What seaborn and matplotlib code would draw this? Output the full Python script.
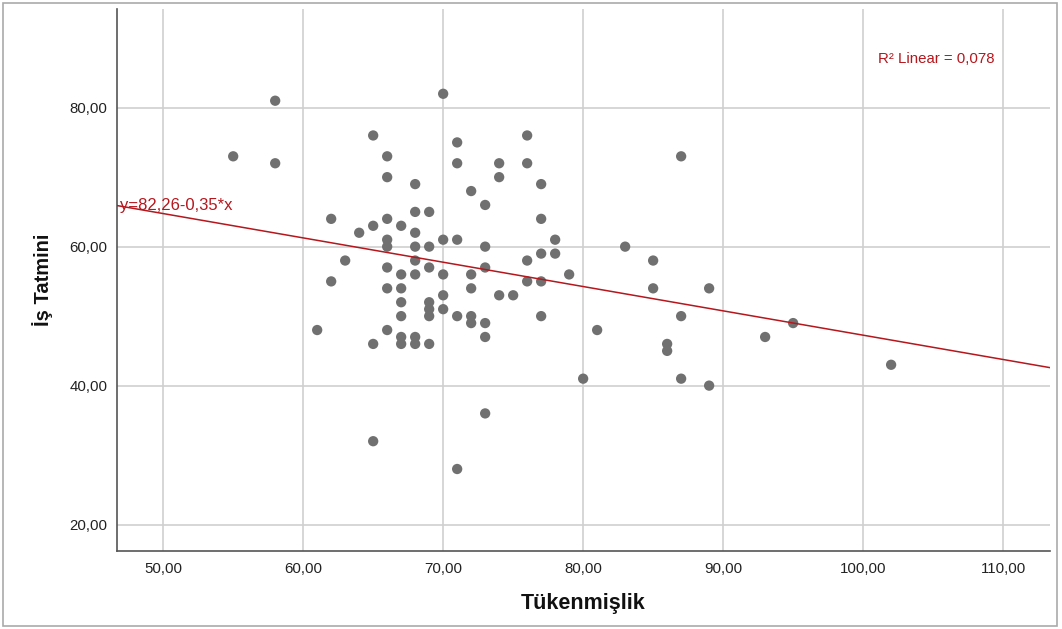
import matplotlib
matplotlib.use("Agg")
import matplotlib.pyplot as plt
import matplotlib.ticker as mticker
from matplotlib.patches import Rectangle
import seaborn as sns
import pandas as pd
import numpy as np

tukenmislik = [55, 58, 58, 61, 62, 62, 63, 64, 65, 65, 65, 65,
               66, 66, 66, 66, 66, 66, 66, 66,
               67, 67, 67, 67, 67, 67, 67,
               68, 68, 68, 68, 68, 68, 68, 68,
               69, 69, 69, 69, 69, 69, 69,
               70, 70, 70, 70, 70,
               71, 71, 71, 71, 71,
               72, 72, 72, 72, 72,
               73, 73, 73, 73, 73, 73,
               74, 74, 74, 75, 76, 76, 76, 76,
               77, 77, 77, 77, 77, 78, 78, 79, 80, 81, 83, 85, 85,
               86, 86, 87, 87, 87, 89, 89, 93, 95, 102]
is_tatmini = [73, 81, 72, 48, 64, 55, 58, 62, 76, 63, 46, 32,
              73, 70, 64, 61, 60, 57, 54, 48,
              63, 56, 54, 52, 50, 47, 46,
              69, 65, 62, 60, 58, 56, 47, 46,
              65, 60, 57, 52, 51, 50, 46,
              82, 61, 56, 53, 51,
              75, 72, 61, 50, 28,
              68, 56, 54, 50, 49,
              66, 60, 57, 49, 47, 36,
              72, 70, 53, 53, 76, 72, 58, 55,
              69, 64, 59, 55, 50, 61, 59, 56, 41, 48, 60, 58, 54,
              46, 45, 73, 50, 41, 54, 40, 47, 49, 43]

intercept = 82.26
slope = -0.35
equation_label = "y=82,26-0,35*x"
r2_label = "R² Linear = 0,078"
x_label = "Tükenmişlik"
y_label = "İş Tatmini"

df = pd.DataFrame({"Tükenmişlik": tukenmislik, "İş Tatmini": is_tatmini})

sns.set_style("white")
plt.rcParams["font.family"] = ["Liberation Sans", "DejaVu Sans"]

fig = plt.figure(figsize=(10.62, 6.29), dpi=100)
ax = fig.add_axes([117 / 1062, 1 - 551 / 629, (1050 - 117) / 1062, (551 - 9) / 629])

xmin, xmax = 46.7, 113.35
ymin, ymax = 16.2, 94.2

sns.scatterplot(data=df, x="Tükenmişlik", y="İş Tatmini", ax=ax,
                color="#707070", s=55, edgecolor="none", zorder=3)

xs = np.array([xmin, xmax])
ax.plot(xs, intercept + slope * xs, color="#b5171d", lw=1.1, zorder=4)

ax.set_xlim(xmin, xmax)
ax.set_ylim(ymin, ymax)
ax.set_xticks([50, 60, 70, 80, 90, 100, 110])
ax.set_yticks([20, 40, 60, 80])
fmt = mticker.FuncFormatter(lambda v, p: f"{v:.2f}".replace(".", ","))
ax.xaxis.set_major_formatter(fmt)
ax.yaxis.set_major_formatter(fmt)
ax.tick_params(axis="both", length=0, labelsize=10.8, colors="#222222")
ax.tick_params(axis="x", pad=8)
ax.tick_params(axis="y", pad=7)

ax.grid(True, color="#cfcfcf", lw=1.2, zorder=0)
ax.set_axisbelow(True)
for s in ["top", "right"]:
    ax.spines[s].set_visible(False)
for s in ["left", "bottom"]:
    ax.spines[s].set_color("#555555")
    ax.spines[s].set_linewidth(1.2)

ax.set_xlabel(x_label, fontsize=15.5, fontweight="bold", labelpad=12, color="#111111")
ax.set_ylabel(y_label, fontsize=14.5, fontweight="bold", labelpad=12, color="#111111")

ax.text(xmin + 0.25, intercept + slope * xmin, equation_label, color="#b5171d",
        fontsize=12, va="center", ha="left", zorder=5)
ax.text(101.05, 87.0, r2_label, color="#b5171d", fontsize=10.8, va="center", ha="left")

fig.patches.append(Rectangle((3 / 1062, 3 / 629), 1054 / 1062, 623 / 629,
                             transform=fig.transFigure, fill=False,
                             edgecolor="#aaaaaa", lw=1.2))

fig.savefig("out.png", dpi=100)
